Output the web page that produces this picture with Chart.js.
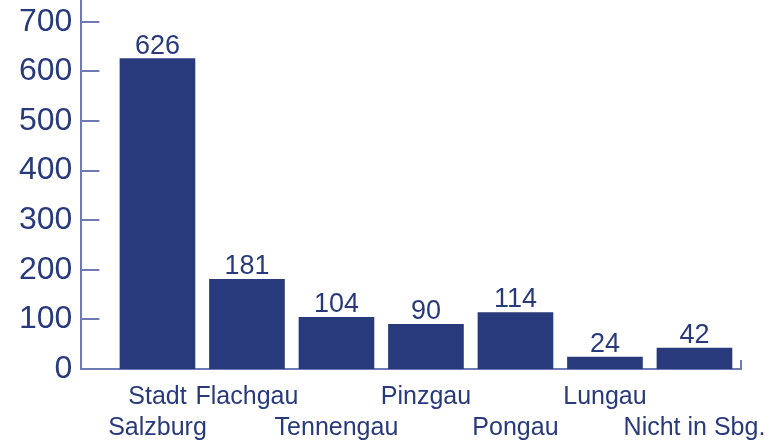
<!DOCTYPE html>
<html>
<head>
<meta charset="utf-8">
<script src="https://cdn.jsdelivr.net/npm/chart.js@4"></script>
<style>
  html, body { margin: 0; padding: 0; background: #fff; }
  #wrap { width: 782px; height: 443px; }
</style>
</head>
<body>
<div id="wrap"><canvas id="chart"></canvas></div>
<script>
// categories, split in two rows the way the picture staggers them
const regions = ["Stadt Salzburg", "Flachgau", "Tennengau", "Pinzgau", "Pongau", "Lungau", "Nicht in Sbg."];
const labelRows = [
	["Stadt", "Salzburg"],
	["Flachgau", ""],
	["", "Tennengau"],
	["Pinzgau", ""],
	["", "Pongau"],
	["Lungau", ""],
	["", "Nicht in Sbg."]
];
const counts = [626, 181, 104, 90, 114, 24, 42];
const yTicks = [0, 100, 200, 300, 400, 500, 600, 700];

const navy = "rgb(40, 58, 124)";
const axisCol = "rgb(112, 122, 178)";
const fontFam = "'Liberation Sans', Arial, sans-serif";

// value above each bar + inner tick marks on the axes
const extras = {
	id: "extras",
	afterDatasetsDraw(chart){
		let ctx = chart.ctx;
		let meta = chart.getDatasetMeta(0);
		ctx.save();
		ctx.fillStyle = navy;
		ctx.font = "27px " + fontFam;
		ctx.textAlign = "center";
		ctx.textBaseline = "alphabetic";
		meta.data.forEach(function(bar, i){
			ctx.fillText(String(counts[i]), bar.x, bar.y - 5);
		});

		let y = chart.scales.y, area = chart.chartArea;
		ctx.strokeStyle = axisCol;
		ctx.lineWidth = 2;
		ctx.beginPath();
		yTicks.forEach(function(v){
			let py = Math.round(y.getPixelForValue(v));
			ctx.moveTo(area.left, py);
			ctx.lineTo(area.left + 18, py);
		});
		ctx.moveTo(area.right, area.bottom);
		ctx.lineTo(area.right, area.bottom - 9);
		ctx.stroke();
		ctx.restore();
	}
};

let ctx = document.getElementById("chart").getContext("2d");

new Chart(ctx, {
	type: "bar",
	data: {
		datasets: [{
			label: "Anzahl",
			backgroundColor: navy,
			data: counts.map(function(v, i){ return {x: i, y: v}; }),
			barThickness: 75
		}]
	},
	options: {
		responsive: true,
		maintainAspectRatio: false,
		animation: false,
		layout: { padding: { left: 10, right: 41, top: 0, bottom: 1 } },
		plugins: {
			legend: { display: false },
			tooltip: { enabled: false }
		},
		scales: {
			x: {
				type: "linear",
				offset: false,
				min: -0.85,
				max: 6.52,
				afterBuildTicks: function(s){
					s.ticks = regions.map(function(_, i){ return {value: i}; });
				},
				afterFit: function(s){
					s.paddingLeft = 0;
					s.paddingRight = 0;
					s.height = 73;
				},
				grid: { display: false, drawTicks: false },
				border: { display: true, color: axisCol, width: 2 },
				ticks: {
					autoSkip: false,
					maxRotation: 0,
					padding: 13,
					color: navy,
					font: { family: fontFam, size: 25, lineHeight: 1.24 },
					callback: function(v){ return labelRows[v] || ""; }
				}
			},
			y: {
				min: 0,
				max: 744,
				afterBuildTicks: function(s){
					s.ticks = yTicks.map(function(v){ return {value: v}; });
				},
				afterFit: function(s){
					s.paddingTop = 0;
					s.paddingBottom = 0;
				},
				grid: { display: false, drawTicks: false },
				border: { display: true, color: axisCol, width: 2 },
				ticks: {
					padding: 9,
					color: navy,
					font: { family: fontFam, size: 32 }
				}
			}
		}
	},
	plugins: [extras]
});
</script>
</body>
</html>
